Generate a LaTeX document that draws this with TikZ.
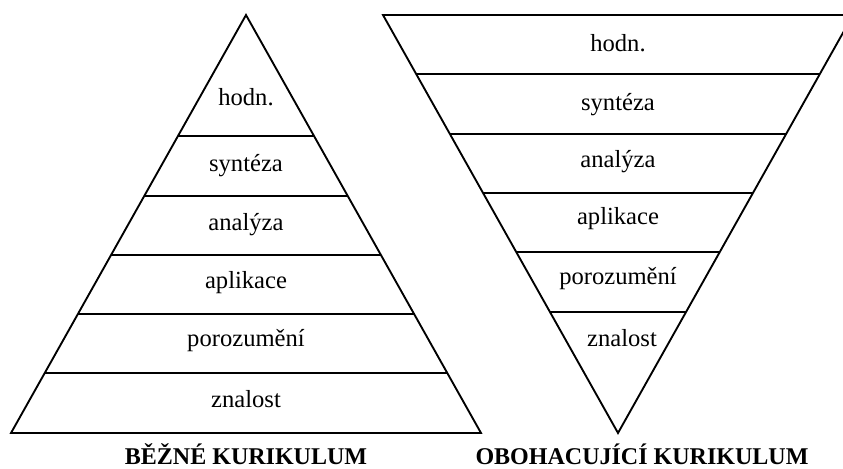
\documentclass[tikz,border=0pt]{standalone}
\usepackage{fontspec}
\setmainfont{Liberation Serif}
\usetikzlibrary{positioning}

\tikzset{
  level/.style={font=\fontsize{21}{24}\selectfont, inner sep=0pt},
  title/.style={font=\fontsize{20.5}{23}\selectfont\bfseries, inner sep=0pt, anchor=base}
}

\begin{document}
\begin{tikzpicture}[x=0.03cm,y=-0.03cm,line width=1.6pt,line join=miter]

      \useasboundingbox (0,0) rectangle (843,468);
      \clip (0,0) rectangle (843,468);

      % bezne kurikulum
      \draw (246,15) -- (11,433) -- (481,433) -- cycle;
      \draw (178.0,136) -- (314.0,136);
      \draw (144.2,196) -- (347.8,196);
      \draw (111.1,255) -- (380.9,255);
      \draw ( 77.9,314) -- (414.1,314);
      \draw ( 44.7,373) -- (447.3,373);

      \node[level] (lhodn) at (246, 97) {hodn.};
      \node[level] (lsynt) at (246,166) {syntéza};
      \node[level] (lanal) at (246,225) {analýza};
      \node[level] (lapli) at (246,283) {aplikace};
      \node[level] (lporo) at (246,341) {porozumění};
      \node[level] (lznal) at (246,399) {znalost};
      \node[title] (ltitle) at (246,464) {BĚŽNÉ KURIKULUM};

      % obohacujici kurikulum
      \draw (383,15) -- (853,15) -- (618,433) -- cycle;
      \draw (416.2, 74) -- (819.8, 74);
      \draw (449.9,134) -- (786.1,134);
      \draw (483.1,193) -- (752.9,193);
      \draw (516.2,252) -- (719.8,252);
      \draw (550.0,312) -- (686.0,312);

      \node[level] (rhodn) at (618, 43) {hodn.};
      \node[level] (rsynt) at (618,105) {syntéza};
      \node[level] (ranal) at (618,162) {analýza};
      \node[level] (rapli) at (618,219) {aplikace};
      \node[level] (rporo) at (618,279) {porozumění};
      \node[level] (rznal) at (622,338) {znalost};
      \node[title] (rtitle) at (642,464) {OBOHACUJÍCÍ KURIKULUM};

\end{tikzpicture}
\end{document}
